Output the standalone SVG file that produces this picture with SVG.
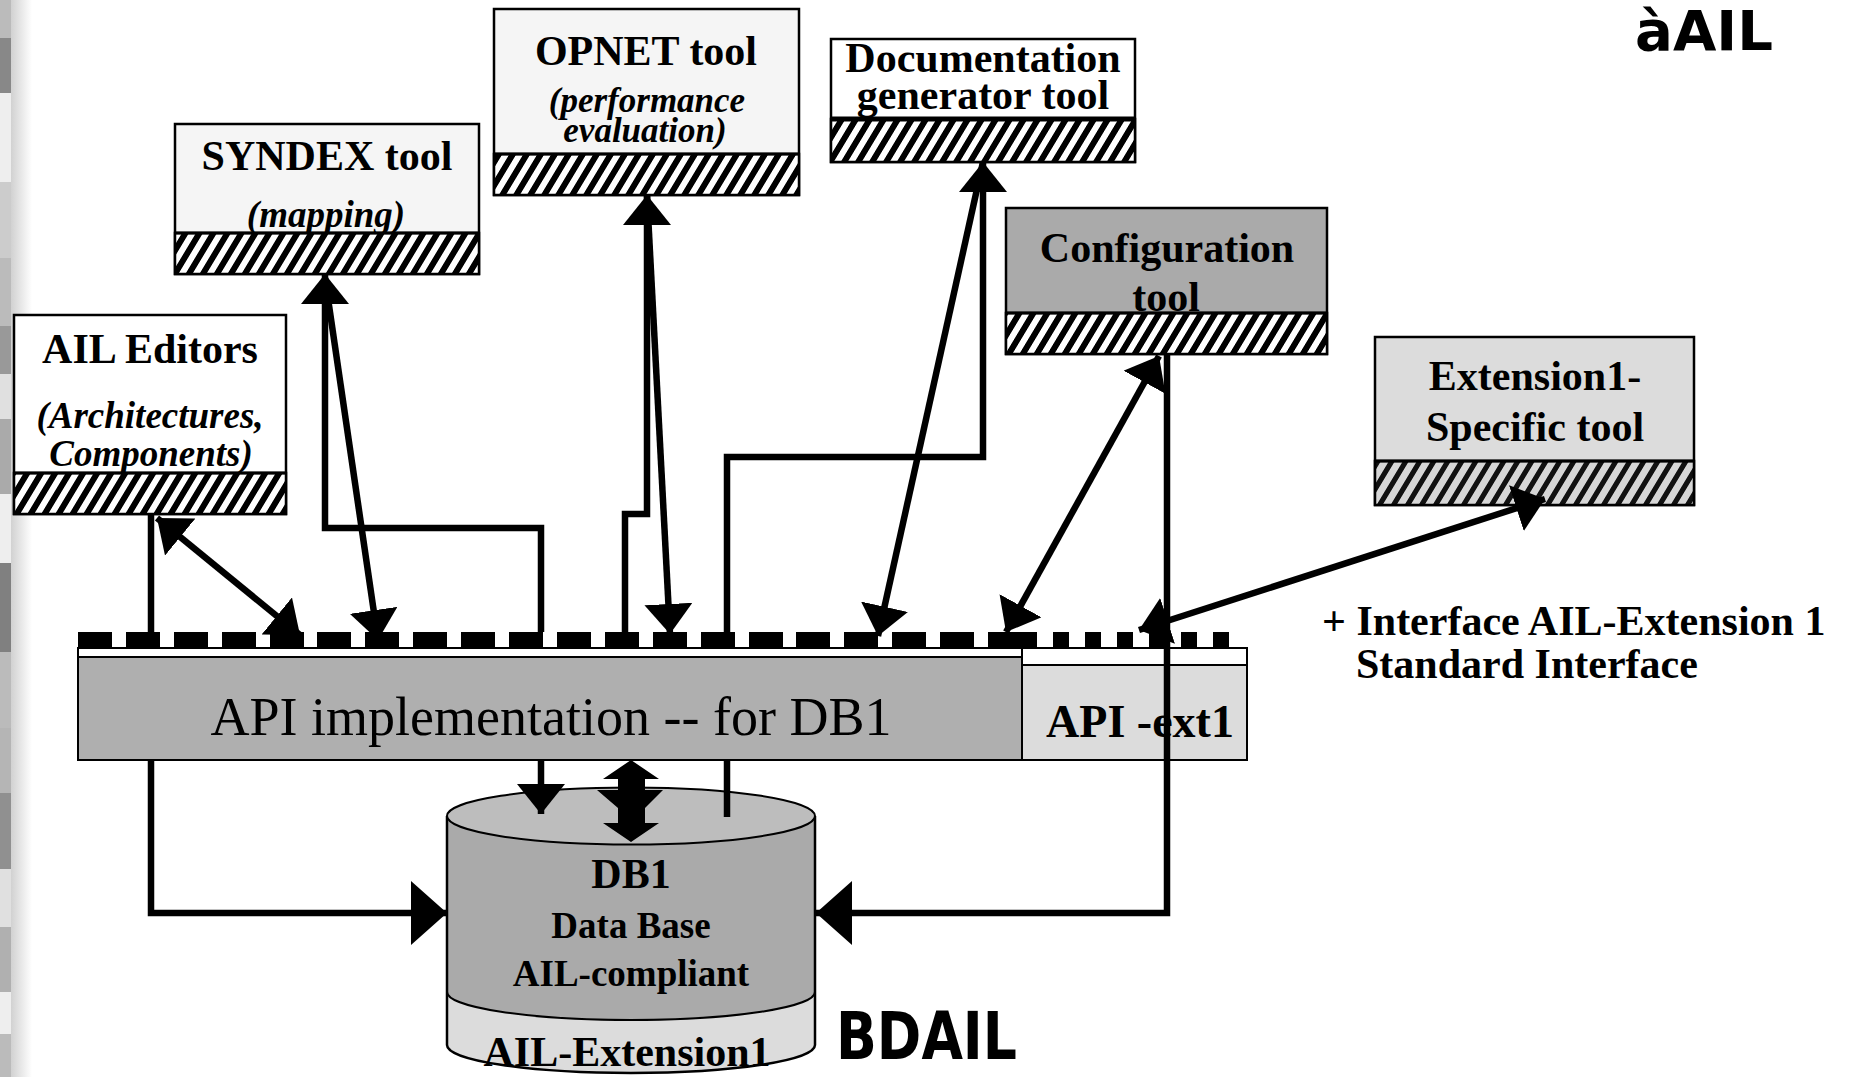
<svg xmlns="http://www.w3.org/2000/svg" width="1854" height="1077" viewBox="0 0 1854 1077">
<style>
.box{stroke:#000;stroke-width:2.5}
.sep{stroke:#000;stroke-width:3}
.t{font-family:"Liberation Serif","Times New Roman",serif;font-weight:bold;font-size:42px;fill:#000;text-anchor:middle}
.it{font-family:"Liberation Serif","Times New Roman",serif;font-weight:bold;font-style:italic;font-size:37px;fill:#000;text-anchor:middle}
.conn{fill:none;stroke:#000;stroke-width:6.5;stroke-linejoin:miter}
.tooth{fill:#000}
.logo{font-family:"DejaVu Sans",sans-serif;font-weight:bold;fill:#000}
</style>
<defs>
<pattern id="hatch" patternUnits="userSpaceOnUse" width="14" height="14" patternTransform="skewX(-31)">
<rect width="14" height="14" fill="#fff"/>
<rect width="7" height="14" fill="#000"/>
</pattern>
<pattern id="hatchg" patternUnits="userSpaceOnUse" width="14" height="14" patternTransform="skewX(-31)">
<rect width="14" height="14" fill="#d6d6d6"/>
<rect width="6" height="14" fill="#111"/>
</pattern>
<linearGradient id="edge" x1="0" y1="0" x2="1" y2="0">
<stop offset="0" stop-color="#cfcfcf"/>
<stop offset="1" stop-color="#fff"/>
</linearGradient>
<marker id="ah" viewBox="0 0 30 48" refX="30" refY="24" markerWidth="30" markerHeight="48" markerUnits="userSpaceOnUse" orient="auto-start-reverse">
<path d="M0,0 L30,24 L0,48 Z" fill="#000"/>
</marker>
<marker id="ahb" viewBox="0 0 36 64" refX="36" refY="32" markerWidth="36" markerHeight="64" markerUnits="userSpaceOnUse" orient="auto-start-reverse">
<path d="M0,0 L36,32 L0,64 Z" fill="#000"/>
</marker>
</defs>
<rect width="1854" height="1077" fill="#fff"/>
<g id="left-edge">
<rect x="10" y="0" width="22" height="1077" fill="url(#edge)"/>
<rect x="0" y="0" width="11" height="38" fill="#bbb"/>
<rect x="0" y="38" width="11" height="55" fill="#888"/>
<rect x="0" y="93" width="11" height="89" fill="#eee"/>
<rect x="0" y="182" width="11" height="76" fill="#ccc"/>
<rect x="0" y="258" width="11" height="68" fill="#bbb"/>
<rect x="0" y="326" width="11" height="48" fill="#999"/>
<rect x="0" y="374" width="11" height="45" fill="#e0e0e0"/>
<rect x="0" y="419" width="11" height="75" fill="#aaa"/>
<rect x="0" y="494" width="11" height="69" fill="#eee"/>
<rect x="0" y="563" width="11" height="89" fill="#808080"/>
<rect x="0" y="652" width="11" height="76" fill="#bbb"/>
<rect x="0" y="728" width="11" height="65" fill="#b5b5b5"/>
<rect x="0" y="793" width="11" height="76" fill="#909090"/>
<rect x="0" y="869" width="11" height="58" fill="#e0e0e0"/>
<rect x="0" y="927" width="11" height="65" fill="#b0b0b0"/>
<rect x="0" y="992" width="11" height="42" fill="#eee"/>
<rect x="0" y="1034" width="11" height="43" fill="#bbb"/>
</g>

<g id="node-ail-editors">
<rect class="box" x="14" y="315" width="272" height="199" fill="#fff"/>
<rect class="box" x="14" y="473" width="272" height="41" fill="url(#hatch)"/>
<line class="sep" x1="14" y1="473" x2="286" y2="473"/>
<text class="t" x="150" y="363">AIL Editors</text>
<text class="it" x="150" y="428">(Architectures,</text>
<text class="it" x="151" y="466">Components)</text>
</g>

<g id="node-syndex">
<rect class="box" x="175" y="124" width="304" height="150" fill="#f5f5f5"/>
<text class="t" x="327" y="170">SYNDEX tool</text>
<text class="it" x="326" y="227">(mapping)</text>
<rect class="box" x="175" y="233" width="304" height="41" fill="url(#hatch)"/>
<line class="sep" x1="175" y1="233" x2="479" y2="233"/>
</g>

<g id="node-opnet">
<rect class="box" x="494" y="9" width="305" height="186" fill="#f5f5f5"/>
<text class="t" x="646" y="65">OPNET tool</text>
<text class="it" x="647" y="112" style="font-size:35px">(performance</text>
<text class="it" x="645" y="142" style="font-size:35px">evaluation)</text>
<rect class="box" x="494" y="154" width="305" height="41" fill="url(#hatch)"/>
<line class="sep" x1="494" y1="154" x2="799" y2="154"/>
</g>

<g id="node-documentation">
<rect class="box" x="831" y="39" width="304" height="123" fill="#fff"/>
<text class="t" x="983" y="72">Documentation</text>
<text class="t" x="983" y="109">generator tool</text>
<rect class="box" x="831" y="119" width="304" height="43" fill="url(#hatch)"/>
<line x1="831" y1="119" x2="1135" y2="119" stroke="#000" stroke-width="5"/>
</g>

<g id="node-configuration">
<rect class="box" x="1006" y="208" width="321" height="146" fill="#aaa"/>
<text class="t" x="1167" y="262">Configuration</text>
<text class="t" x="1166" y="311">tool</text>
<rect class="box" x="1006" y="313" width="321" height="41" fill="url(#hatch)"/>
<line class="sep" x1="1006" y1="313" x2="1327" y2="313"/>
</g>

<g id="node-extension1">
<rect class="box" x="1375" y="337" width="319" height="168" fill="#dcdcdc"/>
<text class="t" x="1535" y="390">Extension1-</text>
<text class="t" x="1535" y="441">Specific tool</text>
<rect class="box" x="1375" y="461" width="319" height="44" fill="url(#hatchg)"/>
<line class="sep" x1="1375" y1="461" x2="1694" y2="461"/>
</g>

<g id="node-api">
<rect x="78" y="648" width="946" height="112" fill="#fff" stroke="#000" stroke-width="2"/>
<rect x="78" y="657" width="946" height="103" fill="#afafaf" stroke="#000" stroke-width="2"/>
<g>
<rect class="tooth" x="78" y="632" width="34" height="16"/>
<rect class="tooth" x="126" y="632" width="34" height="16"/>
<rect class="tooth" x="174" y="632" width="34" height="16"/>
<rect class="tooth" x="222" y="632" width="34" height="16"/>
<rect class="tooth" x="270" y="632" width="34" height="16"/>
<rect class="tooth" x="317" y="632" width="34" height="16"/>
<rect class="tooth" x="365" y="632" width="34" height="16"/>
<rect class="tooth" x="413" y="632" width="34" height="16"/>
<rect class="tooth" x="461" y="632" width="34" height="16"/>
<rect class="tooth" x="509" y="632" width="34" height="16"/>
<rect class="tooth" x="557" y="632" width="34" height="16"/>
<rect class="tooth" x="605" y="632" width="34" height="16"/>
<rect class="tooth" x="653" y="632" width="34" height="16"/>
<rect class="tooth" x="701" y="632" width="34" height="16"/>
<rect class="tooth" x="749" y="632" width="34" height="16"/>
<rect class="tooth" x="796" y="632" width="34" height="16"/>
<rect class="tooth" x="844" y="632" width="34" height="16"/>
<rect class="tooth" x="892" y="632" width="34" height="16"/>
<rect class="tooth" x="940" y="632" width="34" height="16"/>
<rect class="tooth" x="988" y="632" width="34" height="16"/>
</g>
<text x="551" y="735" style="font-family:'Liberation Serif','Times New Roman',serif;font-size:54px;text-anchor:middle">API implementation -- for DB1</text>
</g>

<g id="node-api-ext1">
<rect x="1022" y="648" width="225" height="112" fill="#fff" stroke="#000" stroke-width="2"/>
<rect x="1022" y="665" width="225" height="95" fill="#dcdcdc" stroke="#000" stroke-width="2"/>
<rect class="tooth" x="1021" y="632" width="16" height="16"/>
<rect class="tooth" x="1053" y="632" width="16" height="16"/>
<rect class="tooth" x="1085" y="632" width="16" height="16"/>
<rect class="tooth" x="1117" y="632" width="16" height="16"/>
<rect class="tooth" x="1149" y="632" width="16" height="16"/>
<rect class="tooth" x="1181" y="632" width="16" height="16"/>
<rect class="tooth" x="1213" y="632" width="16" height="16"/>
<text class="t" x="1140" y="737" style="font-size:46px">API -ext1</text>
</g>

<g id="node-db1">
<path d="M447,816 L447,992 A184,28 0 0 0 815,992 L815,816 Z" fill="#aaa"/>
<path d="M447,992 A184,28 0 0 0 815,992 L815,1045 A184,28 0 0 1 447,1045 Z" fill="#dcdcdc"/>
<path d="M447,992 A184,28 0 0 0 815,992" fill="none" stroke="#000" stroke-width="2"/>
<path d="M447,816 L447,1045 A184,28 0 0 0 815,1045 L815,816" fill="none" stroke="#000" stroke-width="2.5"/>
<ellipse cx="631" cy="816" rx="184" ry="28.5" fill="#bdbdbd" stroke="#000" stroke-width="2"/>
<text class="t" x="631" y="888">DB1</text>
<text class="t" x="631" y="938" style="font-size:37px">Data Base</text>
<text class="t" x="631" y="986" style="font-size:37px">AIL-compliant</text>
<text class="t" x="627" y="1066">AIL-Extension1</text>
</g>

<g id="connectors">
<path class="conn" d="M151,514 L151,632"/>
<path class="conn" d="M157,518 L300,635" marker-start="url(#ah)" marker-end="url(#ah)"/>
<path class="conn" d="M151,760 L151,913 L447,913" marker-end="url(#ahb)"/>
<path class="conn" d="M325,274 L325,528 L541,528 L541,632" marker-start="url(#ah)"/>
<path class="conn" d="M325,278 L378,640" marker-end="url(#ah)"/>
<path class="conn" d="M647,195 L647,514 L625,514 L625,632" marker-start="url(#ah)"/>
<path class="conn" d="M647,195 L670,634" marker-end="url(#ah)"/>
<path class="conn" d="M983,162 L983,457 L727,457 L727,632" marker-start="url(#ah)"/>
<path class="conn" d="M983,162 L878,636" marker-end="url(#ah)"/>
<path class="conn" d="M1159,356 L1006,632" marker-start="url(#ah)" marker-end="url(#ah)"/>
<path class="conn" d="M1167,354 L1167,913 L816,913" marker-end="url(#ahb)"/>
<path class="conn" d="M1545,499 L1139,630" marker-start="url(#ah)" marker-end="url(#ah)"/>
<path class="conn" d="M541,760 L541,814" marker-end="url(#ah)"/>
<path class="conn" d="M727,760 L727,817"/>
<polygon points="631,760 603,779 618,779 618,790 597,790 618,808 618,823 603,823 631,842 659,823 645,823 645,808 663,790 645,790 645,779 659,779" fill="#000"/>
</g>

<g id="labels">
<text class="t" x="1322" y="635" style="text-anchor:start">+ Interface AIL-Extension 1</text>
<text class="t" x="1356" y="678" style="text-anchor:start">Standard Interface</text>
<text class="logo" x="1635" y="50" font-size="55" textLength="138" lengthAdjust="spacingAndGlyphs">àAIL</text>
<text class="logo" x="836" y="1059" font-size="66" textLength="181" lengthAdjust="spacingAndGlyphs">BDAIL</text>
</g>
</svg>
